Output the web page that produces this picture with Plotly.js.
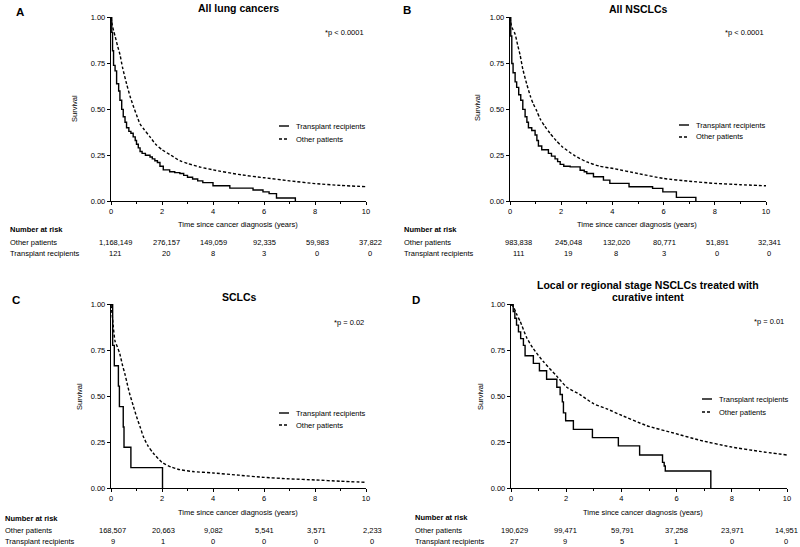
<!DOCTYPE html>
<html>
<head>
<meta charset="utf-8">
<script src="https://cdn.plot.ly/plotly-3.0.1.min.js"></script>
<style>html,body{margin:0;padding:0;background:#fff;}#chart{width:800px;height:547px;}</style>
</head>
<body>
<div id="chart"></div>
<script>
// ---------- Data ----------
const panelTitles = ["All lung cancers", "All NSCLCs", "SCLCs", "Local or regional stage NSCLCs treated with", "curative intent"];
const panelLetters = ["A", "B", "C", "D"];
const pValues = ["*p < 0.0001", "*p < 0.0001", "*p = 0.02", "*p = 0.01"];
const seriesNames = ["Transplant recipients", "Other patients"];
const riskTimes = [0, 2, 4, 6, 8, 10];
const xTicks = [0, 2, 4, 6, 8, 10];
const yTicks = [0, 0.25, 0.5, 0.75, 1.0];

// Panel A: All lung cancers
const A_trans_t = [0, 0.03, 0.06, 0.1, 0.16, 0.22, 0.3, 0.35, 0.42, 0.48, 0.55, 0.61, 0.7, 0.78, 0.87, 0.95, 1.0, 1.07, 1.14, 1.22, 1.35, 1.53, 1.62, 1.72, 1.82, 1.92, 2.05, 2.3, 2.5, 2.7, 2.85, 3.0, 3.2, 3.4, 3.6, 4.0, 4.66, 5.57, 5.96, 6.2, 6.49, 7.23];
const A_trans_s = [1, 0.92, 0.82, 0.74, 0.71, 0.64, 0.6, 0.55, 0.5, 0.46, 0.43, 0.4, 0.38, 0.37, 0.35, 0.33, 0.31, 0.29, 0.27, 0.26, 0.25, 0.24, 0.23, 0.22, 0.21, 0.19, 0.17, 0.16, 0.155, 0.15, 0.14, 0.13, 0.12, 0.11, 0.1, 0.083, 0.07, 0.06, 0.05, 0.04, 0.016, 0];
const A_other_t = [0, 0.05, 0.1, 0.16, 0.25, 0.35, 0.45, 0.61, 0.75, 0.87, 1.0, 1.14, 1.3, 1.53, 1.75, 2.0, 2.35, 2.7, 3.0, 3.5, 4.0, 5.0, 6.0, 7.0, 8.0, 9.0, 10.0];
const A_other_s = [1, 0.96, 0.93, 0.9, 0.85, 0.8, 0.73, 0.64, 0.57, 0.52, 0.47, 0.42, 0.39, 0.35, 0.31, 0.28, 0.25, 0.22, 0.205, 0.185, 0.17, 0.145, 0.127, 0.11, 0.095, 0.085, 0.078];
const A_risk_other = [1168149, 276157, 149059, 92335, 59983, 37822];
const A_risk_trans = [121, 20, 8, 3, 0, 0];

// Panel B: All NSCLCs
const B_trans_t = [0, 0.03, 0.07, 0.12, 0.2, 0.26, 0.34, 0.42, 0.5, 0.59, 0.66, 0.72, 0.85, 0.98, 1.05, 1.11, 1.24, 1.5, 1.62, 1.76, 1.86, 1.96, 2.1, 2.35, 2.74, 2.9, 3.0, 3.26, 3.65, 3.9, 4.65, 5.57, 5.97, 6.5, 7.26];
const B_trans_s = [1, 0.9, 0.75, 0.7, 0.65, 0.62, 0.58, 0.55, 0.5, 0.46, 0.43, 0.4, 0.385, 0.36, 0.33, 0.3, 0.28, 0.26, 0.245, 0.23, 0.215, 0.2, 0.19, 0.186, 0.168, 0.16, 0.15, 0.132, 0.114, 0.096, 0.078, 0.069, 0.05, 0.02, 0];
const B_other_t = [0, 0.05, 0.1, 0.2, 0.3, 0.39, 0.5, 0.65, 0.8, 0.91, 1.05, 1.17, 1.35, 1.56, 1.8, 2.05, 2.5, 3.0, 3.5, 4.04, 5.0, 6.0, 7.0, 8.0, 9.0, 10.0];
const B_other_s = [1, 0.96, 0.94, 0.91, 0.85, 0.8, 0.72, 0.64, 0.57, 0.53, 0.49, 0.45, 0.41, 0.37, 0.33, 0.295, 0.25, 0.213, 0.19, 0.177, 0.15, 0.123, 0.108, 0.096, 0.089, 0.083];
const B_risk_other = [983838, 245048, 132020, 80771, 51891, 32341];
const B_risk_trans = [111, 19, 8, 3, 0, 0];

// Panel C: SCLCs
const C_trans_t = [0, 0.065, 0.13, 0.29, 0.33, 0.48, 0.51, 0.78, 2.02];
const C_trans_s = [1, 0.778, 0.667, 0.556, 0.444, 0.333, 0.222, 0.111, 0];
const C_other_t = [0, 0.05, 0.09, 0.16, 0.25, 0.35, 0.45, 0.55, 0.65, 0.74, 0.87, 1.0, 1.15, 1.27, 1.45, 1.66, 2.0, 2.35, 2.7, 3.2, 4.0, 5.0, 6.0, 7.0, 8.0, 9.0, 10.0];
const C_other_s = [1, 0.94, 0.88, 0.8, 0.77, 0.73, 0.67, 0.62, 0.56, 0.51, 0.45, 0.39, 0.33, 0.28, 0.23, 0.19, 0.14, 0.115, 0.1, 0.09, 0.082, 0.07, 0.058, 0.05, 0.044, 0.037, 0.031];
const C_risk_other = [168507, 20663, 9082, 5541, 3571, 2233];
const C_risk_trans = [9, 1, 0, 0, 0, 0];

// Panel D: Local or regional stage NSCLCs treated with curative intent
const D_trans_t = [0, 0.08, 0.14, 0.2, 0.27, 0.35, 0.45, 0.51, 0.81, 1.03, 1.29, 1.66, 1.78, 1.86, 1.9, 1.98, 2.26, 2.95, 3.89, 4.66, 5.49, 5.55, 5.59, 7.24];
const D_trans_s = [1, 0.963, 0.926, 0.889, 0.852, 0.815, 0.778, 0.722, 0.68, 0.64, 0.593, 0.55, 0.51, 0.47, 0.41, 0.367, 0.32, 0.275, 0.23, 0.18, 0.14, 0.12, 0.093, 0];
const D_other_t = [0, 0.08, 0.2, 0.33, 0.57, 0.81, 1.17, 1.66, 2.02, 2.5, 2.99, 3.5, 3.95, 4.92, 5.89, 6.86, 7.94, 9.0, 10.0];
const D_other_s = [1, 0.99, 0.95, 0.91, 0.82, 0.76, 0.69, 0.61, 0.55, 0.51, 0.46, 0.43, 0.4, 0.34, 0.3, 0.26, 0.225, 0.2, 0.18];
const D_risk_other = [190629, 99471, 59791, 37258, 23971, 14951];
const D_risk_trans = [27, 9, 5, 1, 0, 0];

// ---------- Layout helpers ----------
const W = 800, H = 547;
const FONT = "Liberation Sans, Arial, Helvetica, sans-serif";
const px = x => x / W;
const py = y => 1 - y / H;

// plot boxes in pixels: [left, right, top, bottom]
const boxes = [
  [111, 366, 17, 201],
  [510, 766, 17, 201],
  [111, 366, 304, 488],
  [511, 787, 304, 488]
];

const panels = [
  {tt: A_trans_t, ts: A_trans_s, ot: A_other_t, os: A_other_s, ro: A_risk_other, rt: A_risk_trans},
  {tt: B_trans_t, ts: B_trans_s, ot: B_other_t, os: B_other_s, ro: B_risk_other, rt: B_risk_trans},
  {tt: C_trans_t, ts: C_trans_s, ot: C_other_t, os: C_other_s, ro: C_risk_other, rt: C_risk_trans},
  {tt: D_trans_t, ts: D_trans_s, ot: D_other_t, os: D_other_s, ro: D_risk_other, rt: D_risk_trans}
];

const data = [];
const layout = {
  width: W, height: H,
  margin: {l: 0, r: 0, t: 0, b: 0, pad: 0},
  paper_bgcolor: "#fff", plot_bgcolor: "#fff",
  showlegend: false,
  font: {family: FONT, color: "#000", size: 7},
  annotations: [], shapes: []
};

panels.forEach((p, i) => {
  const n = i === 0 ? "" : String(i + 1);
  const b = boxes[i];
  data.push({
    x: p.tt, y: p.ts, xaxis: "x" + n, yaxis: "y" + n, type: "scatter", mode: "lines",
    name: seriesNames[0], line: {color: "#000", width: 1.4, shape: "hv"}
  });
  data.push({
    x: p.ot, y: p.os, xaxis: "x" + n, yaxis: "y" + n, type: "scatter", mode: "lines",
    name: seriesNames[1], line: {color: "#000", width: 1.4, dash: "3px,2px", shape: "spline", smoothing: 0.6}
  });
  layout["xaxis" + n] = {
    domain: [px(b[0]), px(b[1])], anchor: "y" + n, range: [0, 10],
    tickvals: xTicks, ticks: "outside", ticklen: 3, tickwidth: 1, tickcolor: "#000",
    showline: true, linecolor: "#000", linewidth: 1.2, showgrid: false, zeroline: false,
    tickfont: {family: FONT, size: 7.5, color: "#000"},
    minor: {tickvals: [1, 3, 5, 7, 9], ticks: "outside", ticklen: 2, tickwidth: 1, tickcolor: "#000", showgrid: false},
    fixedrange: true
  };
  layout["yaxis" + n] = {
    domain: [py(b[3]), py(b[2])], anchor: "x" + n, range: [0, 1.004],
    tickvals: yTicks, tickformat: ".2f", ticks: "outside", ticklen: 3, tickwidth: 1, tickcolor: "#000",
    showline: true, linecolor: "#000", linewidth: 1.2, showgrid: false, zeroline: false,
    tickfont: {family: FONT, size: 7.5, color: "#000"},
    fixedrange: true
  };
});

function ann(text, x, y, opts) {
  layout.annotations.push(Object.assign({
    text: text, x: px(x), y: py(y), xref: "paper", yref: "paper",
    showarrow: false, xanchor: "center", yanchor: "middle",
    font: {family: FONT, size: 7.5, color: "#000"}
  }, opts || {}));
}

// panel titles
const titleFont = {family: FONT, size: 10.5, color: "#000", weight: "bold"};
ann(panelTitles[0], 238, 8, {font: titleFont});
ann(panelTitles[1], 638, 9, {font: titleFont});
ann(panelTitles[2], 239, 297, {font: titleFont});
ann(panelTitles[3], 648, 285, {font: titleFont});
ann(panelTitles[4], 648, 297, {font: titleFont});

// letters
const letterFont = {family: FONT, size: 11.5, color: "#000", weight: "bold"};
const letterPos = [[20, 12], [407, 10], [16, 300], [416, 300]];
panelLetters.forEach((L, i) => ann(L, letterPos[i][0], letterPos[i][1], {font: letterFont}));

// p-values
const pPos = [[366, 33], [766, 33], [366, 322], [786, 321]];
pValues.forEach((t, i) => ann(t, pPos[i][0], pPos[i][1], {xanchor: "right"}));

// y-axis titles
const yTitlePos = [[74, 109], [477, 107], [79, 397], [480, 397]];
yTitlePos.forEach(pp => ann("Survival", pp[0], pp[1], {textangle: -90}));

// x-axis titles
const xTitlePos = [[238, 225], [637, 225], [238, 512], [643, 512]];
xTitlePos.forEach(pp => ann("Time since cancer diagnosis (years)", pp[0], pp[1]));

// legends (sample line + label)
const legPos = [
  {x0: 279, x1: 289, y1: 126, y2: 139, tx: 294},
  {x0: 679, x1: 689, y1: 125, y2: 137, tx: 694},
  {x0: 279, x1: 289, y1: 413, y2: 425, tx: 294},
  {x0: 702, x1: 712, y1: 399, y2: 412, tx: 717}
];
legPos.forEach(l => {
  layout.shapes.push({type: "line", xref: "paper", yref: "paper", x0: px(l.x0), x1: px(l.x1), y0: py(l.y1), y1: py(l.y1), line: {color: "#000", width: 1.4}});
  layout.shapes.push({type: "line", xref: "paper", yref: "paper", x0: px(l.x0), x1: px(l.x1), y0: py(l.y2), y1: py(l.y2), line: {color: "#000", width: 1.4, dash: "3px,2px"}});
  ann(seriesNames[0], l.tx, l.y1, {xanchor: "left"});
  ann(seriesNames[1], l.tx, l.y2, {xanchor: "left"});
});

// number-at-risk tables
const tables = [
  {lx: 8, hy: 230, oy: 242.5, ty: 253.5, cols: [116, 166, 213, 264, 317, 370]},
  {lx: 402, hy: 230, oy: 242.5, ty: 253.5, cols: [518, 568, 616, 664, 717, 769]},
  {lx: 3, hy: 518.5, oy: 530.5, ty: 541.5, cols: [113, 163, 213, 264, 316, 372]},
  {lx: 413, hy: 517.5, oy: 530.5, ty: 541.5, cols: [514, 565, 622, 676, 732, 786]}
];
const boldSmall = {family: FONT, size: 7.5, color: "#000", weight: "bold"};
const fmt = v => v.toLocaleString("en-US");
tables.forEach((t, i) => {
  ann("Number at risk", t.lx, t.hy, {xanchor: "left", font: boldSmall});
  ann(seriesNames[1], t.lx, t.oy, {xanchor: "left"});
  ann(seriesNames[0], t.lx, t.ty, {xanchor: "left"});
  riskTimes.forEach((rt, j) => {
    ann(fmt(panels[i].ro[j]), t.cols[j], t.oy);
    ann(fmt(panels[i].rt[j]), t.cols[j], t.ty);
  });
});

Plotly.newPlot("chart", data, layout, {displayModeBar: false, staticPlot: true});
</script>
</body>
</html>
